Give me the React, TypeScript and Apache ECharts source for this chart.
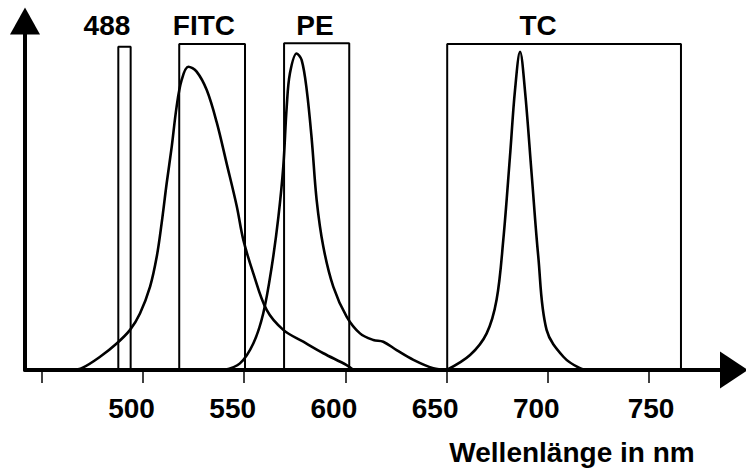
import React, { useEffect, useRef } from "react";
import * as echarts from "echarts";

// wavelength (nm) / relative intensity
const fitcX = [465, 470, 478.8, 487, 493.6, 498.5, 503.5, 506.8, 509.2, 511.7, 514.2, 516.6, 519.1, 522.4, 526.5, 531.5, 536.4, 541.4, 546.3, 549.6, 554.5, 561.1, 569.3, 579.2, 589.1, 600.6, 604];
const fitcY = [0, 0.6, 3.8, 7.6, 11.5, 16.2, 23.9, 32.5, 42, 53.5, 64, 75.4, 83.1, 86.9, 85.5, 80.2, 71, 59, 47, 37.2, 27.7, 17.2, 11.5, 8.1, 4.8, 1.4, 0];

const peX = [540, 547.9, 554.5, 559.4, 563.6, 566.9, 569.3, 571, 572.6, 575.9, 578.4, 580.9, 583.4, 585.8, 589.1, 594, 600.6, 607.2, 613.8, 618.7, 625.3, 633.6, 643.4, 650];
const peY = [0, 1.9, 7.6, 16.2, 29.6, 43.9, 58.2, 75.4, 85, 90.7, 88.8, 80.2, 65.9, 48.7, 35.3, 23.9, 15.3, 10.5, 8.6, 8.1, 5.7, 2.9, 0.5, 0];

const tcX = [650, 661.6, 669.8, 674.7, 678, 681.3, 683.8, 686.3, 688.7, 692, 695.3, 699.4, 707.7, 715.9, 721];
const tcY = [0, 4.3, 10.5, 20.1, 37.2, 61.1, 80.2, 91.2, 80.2, 56.3, 32.5, 11.5, 3.8, 0.5, 0];

// filter / laser windows
const filterNames = ["488", "FITC", "PE", "TC"];
const filterFrom = [487.8, 517.9, 569.7, 650.3];
const filterTo = [493.9, 550.4, 601.9, 765.8];
const filterTop = [92.6, 93.4, 93.6, 93.4];
const labelX = [482.2, 530.1, 585, 695.2];
const labelY = 98.6;

const tickValues = [450, 500, 550, 600, 650, 700, 750];
const labelValues = [500, 550, 600, 650, 700, 750];
const xName = "Wellenlänge in nm";

const X_MIN = 441.7;
const X_MAX = 792;

const FONT = "'Liberation Sans', Arial, sans-serif";

export default function App() {
  const ref = useRef<HTMLDivElement>(null);
  useEffect(() => {
    if (!ref.current) return;
    const chart = echarts.init(ref.current, null, { renderer: "svg" });
    const pair = (xs: number[], ys: number[]) => xs.map((x, i) => [x, ys[i]]);
    const curveStyle = { color: "#000", width: 2.6 };
    const series: any[] = [
      { type: "line", data: pair(fitcX, fitcY), smooth: 0.35, symbol: "none", lineStyle: curveStyle },
      { type: "line", data: pair(peX, peY), smooth: 0.35, symbol: "none", lineStyle: curveStyle },
      { type: "line", data: pair(tcX, tcY), smooth: 0.35, symbol: "none", lineStyle: curveStyle },
    ];
    filterNames.forEach((n, i) => {
      series.push({
        type: "line",
        name: n,
        data: [
          [filterFrom[i], 0],
          [filterFrom[i], filterTop[i]],
          [filterTo[i], filterTop[i]],
          [filterTo[i], 0],
        ],
        symbol: "none",
        lineStyle: { color: "#000", width: 2 },
      });
    });
    series.push({
      type: "scatter",
      data: filterNames.map((n, i) => [labelX[i], labelY, n]),
      symbolSize: 0,
      itemStyle: { opacity: 1, color: "#000" },
      label: {
        show: true,
        position: "inside",
        formatter: (p: any) => p.data[2],
        color: "#000",
        opacity: 1,
        fontSize: 28,
        fontWeight: "bold",
        fontFamily: FONT,
      },
    });
    chart.setOption({
      animation: false,
      backgroundColor: "#fff",
      grid: { left: 25, right: 12, top: 21, bottom: 100 },
      xAxis: {
        type: "value",
        min: X_MIN,
        max: X_MAX,
        splitLine: { show: false },
        axisLine: {
          show: true,
          symbol: ["none", "triangle"],
          symbolSize: [37, 28],
          lineStyle: { color: "#000", width: 4 },
        },
        axisTick: {
          show: true,
          customValues: tickValues,
          length: 13,
          lineStyle: { color: "#000", width: 1.5 },
        },
        axisLabel: {
          show: true,
          customValues: labelValues,
          margin: 24,
          color: "#000",
          fontSize: 28,
          fontWeight: "bold",
          fontFamily: FONT,
          formatter: (v: number) => (v === 750 ? "{b|" + v + "}" : "{a|" + v + "}"),
          rich: {
            a: { fontSize: 28, fontWeight: "bold", fontFamily: FONT, color: "#000", padding: [0, 23, 0, 0] },
            b: { fontSize: 28, fontWeight: "bold", fontFamily: FONT, color: "#000", padding: [0, 0, 0, 4] },
          },
        },
      },
      yAxis: {
        type: "value",
        min: 0,
        max: 100,
        splitLine: { show: false },
        axisTick: { show: false },
        axisLabel: { show: false },
        axisLine: {
          show: true,
          symbol: ["none", "triangle"],
          symbolSize: [30, 27],
          lineStyle: { color: "#000", width: 4 },
        },
      },
      graphic: [
        {
          type: "text",
          x: 572,
          y: 452,
          style: {
            text: xName,
            align: "center",
            verticalAlign: "middle",
            fontSize: 28,
            fontWeight: "bold",
            fontFamily: FONT,
            fill: "#000",
          },
        },
      ],
      series,
    });
    return () => chart.dispose();
  }, []);
  return <div ref={ref} style={{ position: "fixed", left: 0, top: 0, width: 746, height: 470 }} />;
}
